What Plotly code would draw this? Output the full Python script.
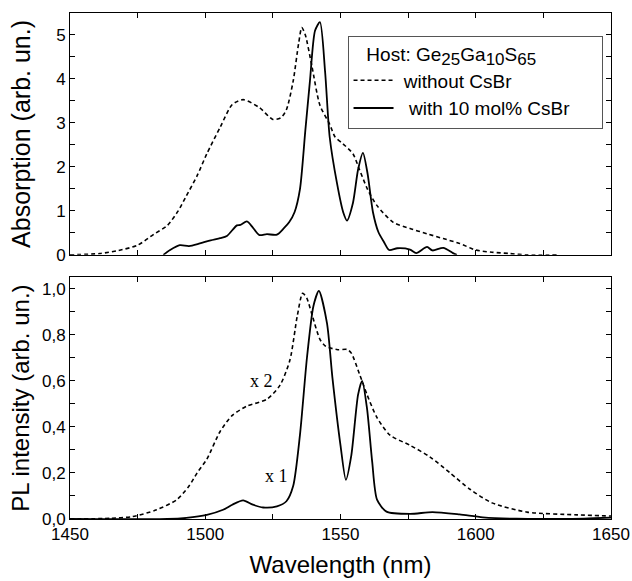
import plotly.graph_objects as go
from plotly.subplots import make_subplots

# ---- Data ----
abs_wo_x = [1450, 1461, 1468, 1475, 1481, 1486, 1490, 1493, 1497, 1500.6, 1505.5, 1510, 1514, 1520,
            1525, 1528, 1530, 1532.5, 1534.5, 1535.7, 1537, 1539.4, 1542.4, 1546, 1548, 1551, 1554.6,
            1557, 1560, 1563.5, 1569.5, 1575.7, 1582, 1588, 1594, 1600, 1606, 1612.6, 1619, 1630]
abs_wo_y = [0, 0.03, 0.1, 0.22, 0.47, 0.67, 1.0, 1.34, 1.8, 2.3, 2.9, 3.42, 3.53, 3.35,
            3.08, 3.12, 3.3, 3.95, 4.8, 5.17, 5.0, 4.3, 3.4, 2.97, 2.68, 2.52, 2.3,
            1.94, 1.49, 1.12, 0.74, 0.6, 0.48, 0.37, 0.26, 0.11, 0.06, 0.03, 0.0, 0.0]

abs_w_x = [1484.5, 1487, 1490.6, 1494, 1498, 1502, 1505.5, 1508, 1511.7, 1513, 1515.4, 1517.6, 1520,
           1522.8, 1526.5, 1529, 1531, 1533, 1535, 1537, 1538.7, 1540.6, 1542.4, 1544.3, 1546, 1548.7,
           1551, 1552.4, 1554.6, 1556.5, 1558.3, 1560, 1562, 1564, 1566, 1568, 1571, 1575.7, 1578,
           1582, 1584, 1588, 1591.6, 1593]
abs_w_y = [0.0, 0.11, 0.22, 0.2, 0.26, 0.33, 0.38, 0.43, 0.67, 0.68, 0.76, 0.62, 0.45,
           0.47, 0.46, 0.6, 0.74, 0.97, 1.49, 2.83, 3.95, 5.1, 5.29, 4.17, 2.68, 1.63,
           0.97, 0.78, 1.18, 1.94, 2.32, 1.85, 0.97, 0.52, 0.3, 0.11, 0.15, 0.12, 0.04,
           0.18, 0.1, 0.16, 0.04, 0.0]

pl_wo_x = [1450, 1465, 1473, 1482, 1489.5, 1494, 1497, 1500.6, 1505.5, 1510, 1515.4, 1522.8, 1527.6,
           1531.3, 1534, 1536, 1537.5, 1539.4, 1542.4, 1544.5, 1549, 1552.4, 1554, 1557, 1559.8,
           1563.5, 1568.3, 1575.7, 1583, 1590.5, 1598, 1606, 1619, 1637.5, 1650]
pl_wo_y = [0, 0.003, 0.01, 0.04, 0.084, 0.143, 0.2, 0.26, 0.38, 0.45, 0.49, 0.52, 0.58,
           0.69, 0.88, 0.98, 0.96, 0.89, 0.78, 0.75, 0.735, 0.736, 0.72, 0.63, 0.54,
           0.44, 0.364, 0.32, 0.27, 0.2, 0.128, 0.07, 0.03, 0.018, 0.013]

pl_w_x = [1450, 1486, 1493, 1500.6, 1506.6, 1510, 1514, 1517.6, 1521.4, 1526.5, 1530, 1532.5, 1535,
          1537.6, 1540, 1542, 1545, 1547, 1550, 1552, 1554, 1556.5, 1558, 1559.8, 1561.7, 1563.5,
          1567, 1575.7, 1584, 1594, 1602.6, 1615, 1640, 1650]
pl_w_y = [0, 0, 0.005, 0.018, 0.04, 0.062, 0.081, 0.062, 0.05, 0.055, 0.077, 0.143, 0.364,
          0.70, 0.925, 0.99, 0.85, 0.615, 0.32, 0.17, 0.276, 0.54, 0.60, 0.48, 0.25, 0.084,
          0.032, 0.022, 0.03, 0.02, 0.0075, 0.001, 0.002, 0.006]

x_ticks = [1450, 1500, 1550, 1600, 1650]
x_ticklabels = ["1450", "1500", "1550", "1600", "1650"]
abs_ticks = [0, 1, 2, 3, 4, 5]
abs_ticklabels = ["0", "1", "2", "3", "4", "5"]
pl_ticks = [0, 0.2, 0.4, 0.6, 0.8, 1.0]
pl_ticklabels = ["0,0", "0,2", "0,4", "0,6", "0,8", "1,0"]

FONT = "Liberation Sans, Arial, sans-serif"
SERIF = "Liberation Serif, Times New Roman, serif"
DASH = "4px,3px"

fig = make_subplots(rows=2, cols=1, shared_xaxes=False, vertical_spacing=0.044)

fig.add_trace(go.Scatter(x=abs_wo_x, y=abs_wo_y, mode="lines", name="&nbsp;without CsBr",
                         line=dict(color="black", width=1.6, dash=DASH, shape="spline", smoothing=0.7),
                         legend="legend"), row=1, col=1)
fig.add_trace(go.Scatter(x=abs_w_x, y=abs_w_y, mode="lines",
                         name="&nbsp;&nbsp;with 10 mol% CsBr&nbsp;&nbsp;&nbsp;&nbsp;&nbsp;",
                         line=dict(color="black", width=1.8, shape="spline", smoothing=0.7),
                         legend="legend"), row=1, col=1)
fig.add_trace(go.Scatter(x=pl_wo_x, y=pl_wo_y, mode="lines", showlegend=False,
                         line=dict(color="black", width=1.6, dash=DASH, shape="spline", smoothing=0.7)),
              row=2, col=1)
fig.add_trace(go.Scatter(x=pl_w_x, y=pl_w_y, mode="lines", showlegend=False,
                         line=dict(color="black", width=1.8, shape="spline", smoothing=0.7)),
              row=2, col=1)

axis_common = dict(showline=True, linecolor="black", linewidth=1, mirror="ticks",
                   ticks="inside", ticklen=5, tickcolor="black", tickwidth=1,
                   showgrid=False, zeroline=False, automargin=False,
                   tickfont=dict(family=FONT, size=17, color="black"))

fig.update_xaxes(range=[1450, 1650], tickvals=x_ticks, ticktext=x_ticklabels,
                 minor=dict(dtick=25, tick0=1450, ticks="inside", ticklen=5, tickcolor="black"),
                 **axis_common)
fig.update_xaxes(showticklabels=False, row=1, col=1)
fig.update_xaxes(title=dict(text="Wavelength (nm)", font=dict(family=FONT, size=24, color="black"),
                            standoff=12), row=2, col=1)

fig.update_yaxes(range=[0, 5.5], tickvals=abs_ticks, ticktext=abs_ticklabels,
                 minor=dict(dtick=0.5, tick0=0, ticks="inside", ticklen=5, tickcolor="black"),
                 title=dict(text="Absorption (arb. un.)", font=dict(family=FONT, size=25, color="black"),
                            standoff=18),
                 row=1, col=1, **axis_common)
fig.update_yaxes(range=[0, 1.05], tickvals=pl_ticks, ticktext=pl_ticklabels,
                 minor=dict(dtick=0.1, tick0=0, ticks="inside", ticklen=5, tickcolor="black"),
                 title=dict(text="PL intensity (arb. un.)", font=dict(family=FONT, size=24, color="black"),
                            standoff=5),
                 row=2, col=1, **axis_common)

sub = lambda s: "<sub><span style='font-size:17px'>%s</span></sub>" % s

fig.update_layout(
    width=632, height=581,
    margin=dict(l=70, r=21, t=13, b=62),
    paper_bgcolor="white", plot_bgcolor="white",
    font=dict(family=FONT, color="black"),
    legend=dict(
        title=dict(text="&nbsp;&nbsp;&nbsp;Host: Ge" + sub("25") + "Ga" + sub("10") + "S" + sub("65"),
                   font=dict(family=FONT, size=19, color="black")),
        font=dict(family=FONT, size=19, color="black"),
        x=0.513, xanchor="left", y=0.955, yanchor="top",
        bordercolor="#555555", borderwidth=1, bgcolor="white",
        tracegroupgap=0, itemwidth=40,
    ),
    annotations=[
        dict(x=1520.8, y=0.6, xref="x2", yref="y2", text="x 2", showarrow=False,
             font=dict(family=SERIF, size=18, color="black")),
        dict(x=1526.5, y=0.185, xref="x2", yref="y2", text="x 1", showarrow=False,
             font=dict(family=SERIF, size=18, color="black")),
    ],
)

fig.write_html("out.html", config={"displayModeBar": False},
               post_script="document.body.style.margin='0px';")
